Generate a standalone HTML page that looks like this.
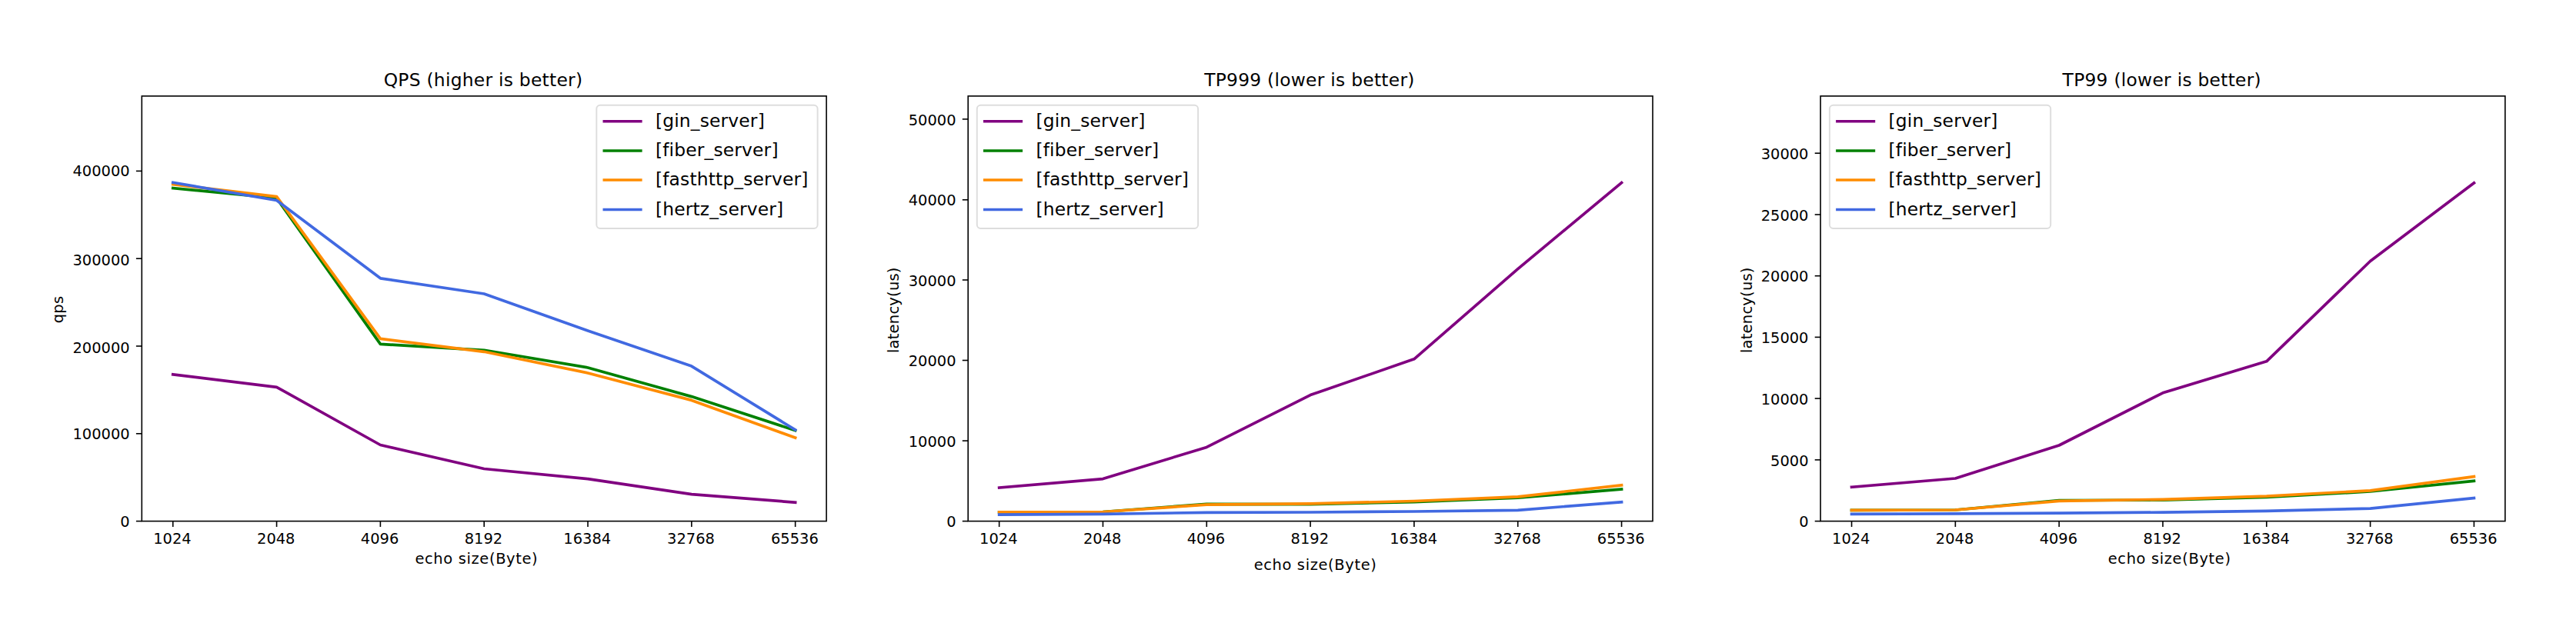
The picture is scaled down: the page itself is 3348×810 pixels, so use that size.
<!DOCTYPE html>
<html lang="en"><head><meta charset="utf-8">
<title>Server benchmark: QPS / TP999 / TP99</title>
<style>
html,body{margin:0;padding:0;background:#fff;}
body{width:3348px;height:810px;overflow:hidden;}
svg{display:block;}
text{font-family:"DejaVu Sans","Liberation Sans",sans-serif;fill:#000;}
.tk{font-size:19.45px;}
.big{font-size:23.35px;}
.xl{letter-spacing:0.64px;}
.yl{letter-spacing:0.24px;}
.tt{letter-spacing:0.27px;}
.lg{letter-spacing:0.18px;}
.ax{stroke:#000;stroke-width:1.6;fill:none;}
.ln{fill:none;stroke-width:3.7;stroke-linejoin:round;stroke-linecap:square;}
.lh{fill:none;stroke-width:3.5;stroke-linecap:butt;}
</style></head><body>
<svg width="3348" height="810" viewBox="0 0 3348 810">
<rect x="0" y="0" width="3348" height="810" fill="#fff"/>
<g>
<g>
<polyline class="ln" stroke="#800080" points="224.75,486.9 359.56,503.3 494.38,578.5 629.2,609.5 764.02,622.7 898.84,642.6 1033.65,653.2"/>
<polyline class="ln" stroke="#008000" points="224.75,244.5 359.56,257.6 494.38,447.4 629.2,455.3 764.02,478 898.84,515.6 1033.65,559.6"/>
<polyline class="ln" stroke="#ff8c00" points="224.75,239.6 359.56,255.6 494.38,440.4 629.2,457.3 764.02,485 898.84,520.4 1033.65,569.2"/>
<polyline class="ln" stroke="#4169e1" points="224.75,237.3 359.56,260.5 494.38,361.8 629.2,382 764.02,430 898.84,476.1 1033.65,558.9"/>
<rect class="ax" x="184.3" y="124.9" width="889.8" height="552.7"/>
<line class="ax" x1="224.75" y1="677.6" x2="224.75" y2="685"/>
<text class="tk" x="223.95" y="707" text-anchor="middle">1024</text>
<line class="ax" x1="359.56" y1="677.6" x2="359.56" y2="685"/>
<text class="tk" x="358.76" y="707" text-anchor="middle">2048</text>
<line class="ax" x1="494.38" y1="677.6" x2="494.38" y2="685"/>
<text class="tk" x="493.58" y="707" text-anchor="middle">4096</text>
<line class="ax" x1="629.2" y1="677.6" x2="629.2" y2="685"/>
<text class="tk" x="628.4" y="707" text-anchor="middle">8192</text>
<line class="ax" x1="764.02" y1="677.6" x2="764.02" y2="685"/>
<text class="tk" x="763.22" y="707" text-anchor="middle">16384</text>
<line class="ax" x1="898.84" y1="677.6" x2="898.84" y2="685"/>
<text class="tk" x="898.04" y="707" text-anchor="middle">32768</text>
<line class="ax" x1="1033.65" y1="677.6" x2="1033.65" y2="685"/>
<text class="tk" x="1032.85" y="707" text-anchor="middle">65536</text>
<line class="ax" x1="176.9" y1="677.6" x2="184.3" y2="677.6"/>
<text class="tk" x="168.7" y="685.1" text-anchor="end">0</text>
<line class="ax" x1="176.9" y1="563.8" x2="184.3" y2="563.8"/>
<text class="tk" x="168.7" y="571.1" text-anchor="end">100000</text>
<line class="ax" x1="176.9" y1="450" x2="184.3" y2="450"/>
<text class="tk" x="168.7" y="458.7" text-anchor="end">200000</text>
<line class="ax" x1="176.9" y1="336.2" x2="184.3" y2="336.2"/>
<text class="tk" x="168.7" y="344.8" text-anchor="end">300000</text>
<line class="ax" x1="176.9" y1="222.4" x2="184.3" y2="222.4"/>
<text class="tk" x="168.7" y="228.65" text-anchor="end">400000</text>
<text class="big tt" x="628" y="112" text-anchor="middle">QPS (higher is better)</text>
<text class="tk xl" x="619.4" y="732.9" text-anchor="middle">echo size(Byte)</text>
<text class="tk yl" transform="translate(81.5 402.5) rotate(-90)" text-anchor="middle">qps</text>
<rect x="775.3" y="136.8" width="287.3" height="160.1" rx="4.7" ry="4.7" fill="#fff" fill-opacity="0.8" stroke="#ccc" stroke-opacity="0.66" stroke-width="1.95"/>
<line class="lh" stroke="#800080" x1="783.5" y1="157.8" x2="834.6" y2="157.8"/>
<text class="big lg" x="851.9" y="165.1">[gin_server]</text>
<line class="lh" stroke="#008000" x1="783.5" y1="196.1" x2="834.6" y2="196.1"/>
<text class="big lg" x="851.9" y="203.3">[fiber_server]</text>
<line class="lh" stroke="#ff8c00" x1="783.5" y1="234.1" x2="834.6" y2="234.1"/>
<text class="big lg" x="851.9" y="241.4">[fasthttp_server]</text>
<line class="lh" stroke="#4169e1" x1="783.5" y1="272.4" x2="834.6" y2="272.4"/>
<text class="big lg" x="851.9" y="279.5">[hertz_server]</text>
</g>
<g>
<polyline class="ln" stroke="#800080" points="1298.65,634.1 1433.46,622.6 1568.28,581.4 1703.1,513.6 1837.92,466.8 1972.74,349.7 2107.55,237.5"/>
<polyline class="ln" stroke="#008000" points="1298.65,665.9 1433.46,665.5 1568.28,655.3 1703.1,655.6 1837.92,652.7 1972.74,647.2 2107.55,636"/>
<polyline class="ln" stroke="#ff8c00" points="1298.65,665.9 1433.46,665.5 1568.28,656.1 1703.1,654.9 1837.92,651.5 1972.74,645.9 2107.55,630.8"/>
<polyline class="ln" stroke="#4169e1" points="1298.65,669.1 1433.46,668.3 1568.28,666.4 1703.1,666 1837.92,665 1972.74,663.3 2107.55,652.7"/>
<rect class="ax" x="1258.2" y="124.9" width="889.8" height="552.7"/>
<line class="ax" x1="1298.65" y1="677.6" x2="1298.65" y2="685"/>
<text class="tk" x="1297.85" y="707" text-anchor="middle">1024</text>
<line class="ax" x1="1433.46" y1="677.6" x2="1433.46" y2="685"/>
<text class="tk" x="1432.66" y="707" text-anchor="middle">2048</text>
<line class="ax" x1="1568.28" y1="677.6" x2="1568.28" y2="685"/>
<text class="tk" x="1567.48" y="707" text-anchor="middle">4096</text>
<line class="ax" x1="1703.1" y1="677.6" x2="1703.1" y2="685"/>
<text class="tk" x="1702.3" y="707" text-anchor="middle">8192</text>
<line class="ax" x1="1837.92" y1="677.6" x2="1837.92" y2="685"/>
<text class="tk" x="1837.12" y="707" text-anchor="middle">16384</text>
<line class="ax" x1="1972.74" y1="677.6" x2="1972.74" y2="685"/>
<text class="tk" x="1971.94" y="707" text-anchor="middle">32768</text>
<line class="ax" x1="2107.55" y1="677.6" x2="2107.55" y2="685"/>
<text class="tk" x="2106.75" y="707" text-anchor="middle">65536</text>
<line class="ax" x1="1250.8" y1="677.6" x2="1258.2" y2="677.6"/>
<text class="tk" x="1242.6" y="685.2" text-anchor="end">0</text>
<line class="ax" x1="1250.8" y1="573.1" x2="1258.2" y2="573.1"/>
<text class="tk" x="1242.6" y="580.7" text-anchor="end">10000</text>
<line class="ax" x1="1250.8" y1="468.5" x2="1258.2" y2="468.5"/>
<text class="tk" x="1242.6" y="476.1" text-anchor="end">20000</text>
<line class="ax" x1="1250.8" y1="364" x2="1258.2" y2="364"/>
<text class="tk" x="1242.6" y="371.6" text-anchor="end">30000</text>
<line class="ax" x1="1250.8" y1="259.8" x2="1258.2" y2="259.8"/>
<text class="tk" x="1242.6" y="267.4" text-anchor="end">40000</text>
<line class="ax" x1="1250.8" y1="154.9" x2="1258.2" y2="154.9"/>
<text class="tk" x="1242.6" y="162.5" text-anchor="end">50000</text>
<text class="big tt" x="1701.9" y="112" text-anchor="middle">TP999 (lower is better)</text>
<text class="tk xl" x="1709.6" y="740.7" text-anchor="middle">echo size(Byte)</text>
<text class="tk yl" transform="translate(1167.9 403.2) rotate(-90)" text-anchor="middle">latency(us)</text>
<rect x="1269.8" y="136.8" width="287.3" height="160.1" rx="4.7" ry="4.7" fill="#fff" fill-opacity="0.8" stroke="#ccc" stroke-opacity="0.66" stroke-width="1.95"/>
<line class="lh" stroke="#800080" x1="1278" y1="157.8" x2="1329.1" y2="157.8"/>
<text class="big lg" x="1346.4" y="165.1">[gin_server]</text>
<line class="lh" stroke="#008000" x1="1278" y1="196.1" x2="1329.1" y2="196.1"/>
<text class="big lg" x="1346.4" y="203.3">[fiber_server]</text>
<line class="lh" stroke="#ff8c00" x1="1278" y1="234.1" x2="1329.1" y2="234.1"/>
<text class="big lg" x="1346.4" y="241.4">[fasthttp_server]</text>
<line class="lh" stroke="#4169e1" x1="1278" y1="272.4" x2="1329.1" y2="272.4"/>
<text class="big lg" x="1346.4" y="279.5">[hertz_server]</text>
</g>
<g>
<polyline class="ln" stroke="#800080" points="2406.55,633.3 2541.36,622 2676.18,579 2811,510.8 2945.82,469.8 3080.64,339.5 3215.45,237.8"/>
<polyline class="ln" stroke="#008000" points="2406.55,663.3 2541.36,663 2676.18,650.5 2811,650.2 2945.82,646.4 3080.64,639 3215.45,625.4"/>
<polyline class="ln" stroke="#ff8c00" points="2406.55,663.3 2541.36,663 2676.18,651.3 2811,649.3 2945.82,645.2 3080.64,637.8 3215.45,619.7"/>
<polyline class="ln" stroke="#4169e1" points="2406.55,668.4 2541.36,667.9 2676.18,667.1 2811,666.1 2945.82,664.3 3080.64,661.2 3215.45,647.6"/>
<rect class="ax" x="2366.1" y="124.9" width="889.8" height="552.7"/>
<line class="ax" x1="2406.55" y1="677.6" x2="2406.55" y2="685"/>
<text class="tk" x="2405.75" y="707" text-anchor="middle">1024</text>
<line class="ax" x1="2541.36" y1="677.6" x2="2541.36" y2="685"/>
<text class="tk" x="2540.56" y="707" text-anchor="middle">2048</text>
<line class="ax" x1="2676.18" y1="677.6" x2="2676.18" y2="685"/>
<text class="tk" x="2675.38" y="707" text-anchor="middle">4096</text>
<line class="ax" x1="2811" y1="677.6" x2="2811" y2="685"/>
<text class="tk" x="2810.2" y="707" text-anchor="middle">8192</text>
<line class="ax" x1="2945.82" y1="677.6" x2="2945.82" y2="685"/>
<text class="tk" x="2945.02" y="707" text-anchor="middle">16384</text>
<line class="ax" x1="3080.64" y1="677.6" x2="3080.64" y2="685"/>
<text class="tk" x="3079.84" y="707" text-anchor="middle">32768</text>
<line class="ax" x1="3215.45" y1="677.6" x2="3215.45" y2="685"/>
<text class="tk" x="3214.65" y="707" text-anchor="middle">65536</text>
<line class="ax" x1="2358.7" y1="677.6" x2="2366.1" y2="677.6"/>
<text class="tk" x="2350.5" y="685.2" text-anchor="end">0</text>
<line class="ax" x1="2358.7" y1="597.9" x2="2366.1" y2="597.9"/>
<text class="tk" x="2350.5" y="605.5" text-anchor="end">5000</text>
<line class="ax" x1="2358.7" y1="518.1" x2="2366.1" y2="518.1"/>
<text class="tk" x="2350.5" y="525.7" text-anchor="end">10000</text>
<line class="ax" x1="2358.7" y1="438.4" x2="2366.1" y2="438.4"/>
<text class="tk" x="2350.5" y="446" text-anchor="end">15000</text>
<line class="ax" x1="2358.7" y1="358.7" x2="2366.1" y2="358.7"/>
<text class="tk" x="2350.5" y="366.3" text-anchor="end">20000</text>
<line class="ax" x1="2358.7" y1="279" x2="2366.1" y2="279"/>
<text class="tk" x="2350.5" y="286.6" text-anchor="end">25000</text>
<line class="ax" x1="2358.7" y1="199.2" x2="2366.1" y2="199.2"/>
<text class="tk" x="2350.5" y="207.1" text-anchor="end">30000</text>
<text class="big tt" x="2809.8" y="112" text-anchor="middle">TP99 (lower is better)</text>
<text class="tk xl" x="2819.7" y="732.7" text-anchor="middle">echo size(Byte)</text>
<text class="tk yl" transform="translate(2276.6 403.2) rotate(-90)" text-anchor="middle">latency(us)</text>
<rect x="2377.9" y="136.8" width="287.3" height="160.1" rx="4.7" ry="4.7" fill="#fff" fill-opacity="0.8" stroke="#ccc" stroke-opacity="0.66" stroke-width="1.95"/>
<line class="lh" stroke="#800080" x1="2386.1" y1="157.8" x2="2437.2" y2="157.8"/>
<text class="big lg" x="2454.5" y="165.1">[gin_server]</text>
<line class="lh" stroke="#008000" x1="2386.1" y1="196.1" x2="2437.2" y2="196.1"/>
<text class="big lg" x="2454.5" y="203.3">[fiber_server]</text>
<line class="lh" stroke="#ff8c00" x1="2386.1" y1="234.1" x2="2437.2" y2="234.1"/>
<text class="big lg" x="2454.5" y="241.4">[fasthttp_server]</text>
<line class="lh" stroke="#4169e1" x1="2386.1" y1="272.4" x2="2437.2" y2="272.4"/>
<text class="big lg" x="2454.5" y="279.5">[hertz_server]</text>
</g>
</g>
</svg>
</body></html>
